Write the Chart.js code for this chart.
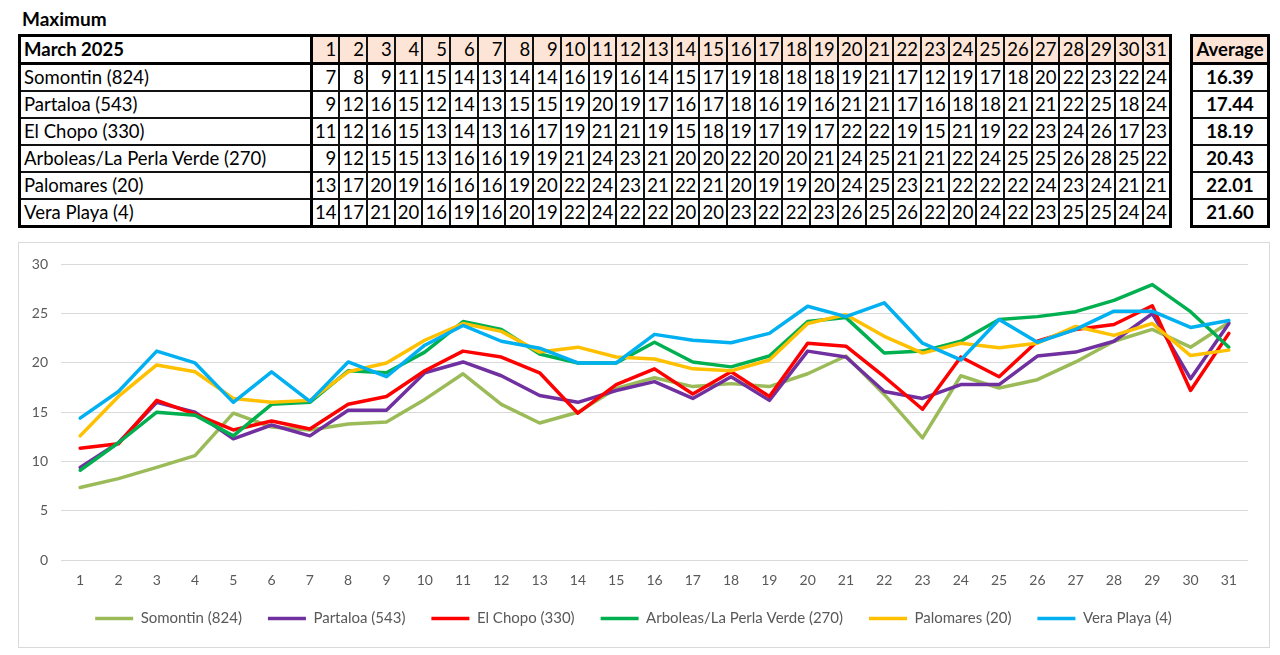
<!DOCTYPE html>
<html>
<head>
<meta charset="utf-8">
<script src="https://cdn.jsdelivr.net/npm/chart.js@4/dist/chart.umd.min.js"></script>
<style>
  body { margin: 0; width: 1280px; height: 655px; background: #fff; font-family: Lato, "Open Sans", sans-serif; position: relative; overflow: hidden; }
  #title { position: absolute; left: 22px; top: 7px; font-weight: bold; font-size: 19px; color: #000; }
  table { border-collapse: collapse; table-layout: fixed; position: absolute; font-size: 18.5px; color: #000; }
  td { border: 2px solid #111; padding: 0 2px; height: 25px; text-align: right; white-space: nowrap; overflow: hidden; line-height: 25px; }
  td.lbl { text-align: left; padding-left: 3px; border-right: 3px solid #000; }
  tr.head td { background: #fce4d6; border-bottom: 3px solid #000; }
  tr.head td.lbl { background: #fff; font-weight: bold; }
  #days { left: 18px; top: 34px; width: 1154px; border: 3px solid #000; }
  #avg { left: 1190px; top: 34px; width: 80px; border: 3px solid #000; }
  #avg td { text-align: center; font-weight: bold; padding: 0; }
  #box { position: absolute; left: 18px; top: 242px; width: 1250px; height: 404px; border: 1px solid #d9d9d9; }
</style>
</head>
<body>
<div id="title">Maximum</div>
<table id="days"></table>
<table id="avg"></table>
<div id="box"><canvas id="chart"></canvas></div>
<script>
const monthLabel = 'March 2025';
const days = ['1','2','3','4','5','6','7','8','9','10','11','12','13','14','15','16','17','18','19','20','21','22','23','24','25','26','27','28','29','30','31'];
const stations = ['Somontin (824)', 'Partaloa (543)', 'El Chopo (330)', 'Arboleas/La Perla Verde (270)', 'Palomares (20)', 'Vera Playa (4)'];
const colors = ['#9bbb59', '#7030a0', '#ff0000', '#00b050', '#ffc000', '#00b0f0'];

// table values (rounded, as printed)
const tableSomontin  = [7,8,9,11,15,14,13,14,14,16,19,16,14,15,17,19,18,18,18,19,21,17,12,19,17,18,20,22,23,22,24];
const tablePartaloa  = [9,12,16,15,12,14,13,15,15,19,20,19,17,16,17,18,16,19,16,21,21,17,16,18,18,21,21,22,25,18,24];
const tableElChopo   = [11,12,16,15,13,14,13,16,17,19,21,21,19,15,18,19,17,19,17,22,22,19,15,21,19,22,23,24,26,17,23];
const tableArboleas  = [9,12,15,15,13,16,16,19,19,21,24,23,21,20,20,22,20,20,21,24,25,21,21,22,24,25,25,26,28,25,22];
const tablePalomares = [13,17,20,19,16,16,16,19,20,22,24,23,21,22,21,20,19,19,20,24,25,23,21,22,22,22,24,23,24,21,21];
const tableVera      = [14,17,21,20,16,19,16,20,19,22,24,22,22,20,20,23,22,22,23,26,25,26,22,20,24,22,23,25,25,24,24];
const averages = ['16.39', '17.44', '18.19', '20.43', '22.01', '21.60'];

// chart values
const somontin  = [7.35,8.26,9.4,10.6,14.9,13.5,13.2,13.8,14.0,16.3,18.9,15.8,13.9,15.0,17.4,18.5,17.6,17.9,17.6,18.9,20.7,16.8,12.4,18.7,17.45,18.3,20.1,22.2,23.4,21.6,24.1];
const partaloa  = [9.4,11.9,16.0,15.0,12.3,13.7,12.6,15.2,15.2,19.0,20.1,18.7,16.7,16.0,17.2,18.1,16.4,18.6,16.2,21.2,20.6,17.1,16.4,17.8,17.8,20.7,21.1,22.2,25.0,18.4,24.0];
const elChopo   = [11.35,11.8,16.2,14.8,13.2,14.1,13.3,15.8,16.6,19.2,21.2,20.6,19.0,14.9,17.8,19.4,16.85,19.1,16.6,22.0,21.7,18.6,15.3,20.6,18.6,22.2,23.4,23.9,25.8,17.2,23.0];
const arboleas  = [9.1,11.9,15.0,14.7,12.6,15.8,16.0,19.2,19.0,21.1,24.2,23.4,20.9,20.0,20.0,22.1,20.1,19.6,20.7,24.2,24.6,21.0,21.2,22.2,24.4,24.7,25.2,26.35,27.95,25.2,21.6];
const palomares = [12.6,16.6,19.8,19.1,16.4,16.0,16.2,19.1,20.0,22.3,24.0,23.2,21.1,21.6,20.6,20.4,19.4,19.2,20.3,24.0,24.9,22.7,21.0,22.0,21.55,22.0,23.7,22.8,24.0,20.75,21.3];
const veraPlaya = [14.4,17.1,21.2,20.0,16.0,19.1,16.1,20.1,18.6,21.8,23.8,22.2,21.5,20.0,20.0,22.9,22.3,22.05,23.0,25.75,24.7,26.1,22.0,20.3,24.4,22.1,23.4,25.25,25.25,23.6,24.3];

const tableRows = [tableSomontin, tablePartaloa, tableElChopo, tableArboleas, tablePalomares, tableVera];
const seriesList = [somontin, partaloa, elChopo, arboleas, palomares, veraPlaya];

function buildTables() {
    const t = document.getElementById('days');
    let html = '<colgroup><col style="width:292px">' + days.map(() => '<col>').join('') + '</colgroup>';
    html += '<tr class="head"><td class="lbl">' + monthLabel + '</td>' + days.map(d => '<td>' + d + '</td>').join('') + '</tr>';
    stations.forEach((s, i) => {
        html += '<tr><td class="lbl">' + s + '</td>' + tableRows[i].map(v => '<td>' + v + '</td>').join('') + '</tr>';
    });
    t.innerHTML = html;

    const a = document.getElementById('avg');
    let h2 = '<tr class="head"><td>Average</td></tr>';
    averages.forEach(v => { h2 += '<tr><td>' + v + '</td></tr>'; });
    a.innerHTML = h2;
}

function maxChart(ctx) {
    const chart = new Chart(ctx, {
        type: 'line',
        data: {
            labels: days,
            datasets: stations.map((s, i) => ({
                label: s,
                data: seriesList[i],
                borderColor: colors[i],
                backgroundColor: colors[i],
                borderWidth: 3.5,
                borderCapStyle: 'round',
                borderJoinStyle: 'round',
                pointRadius: 0,
                tension: 0,
                order: stations.length - i
            }))
        },
        options: {
            responsive: true,
            maintainAspectRatio: false,
            animation: false,
            layout: { padding: { left: 0, right: 21, top: 17, bottom: 11 } },
            plugins: {
                tooltip: { enabled: false },
                legend: {
                    position: 'bottom',
                    reverse: true,
                    labels: {
                        usePointStyle: true,
                        pointStyle: 'line',
                        pointStyleWidth: 38,
                        padding: 26,
                        color: '#595959',
                        font: { family: 'Lato', size: 15 }
                    }
                }
            },
            scales: {
                x: {
                    offset: true,
                    grid: { display: false, drawTicks: false },
                    border: { display: false },
                    ticks: { color: '#595959', font: { family: 'Lato', size: 14 }, padding: 12, maxRotation: 0, autoSkip: false },
                    afterFit(scale) { scale.height = 25; }
                },
                y: {
                    min: 0,
                    max: 30,
                    ticks: { stepSize: 5, color: '#595959', font: { family: 'Lato', size: 14 }, padding: 13 },
                    grid: { color: '#d9d9d9', lineWidth: 1, drawTicks: false },
                    border: { display: false },
                    afterFit(scale) { scale.width = 42; }
                }
            }
        }
    });
    return chart;
}

function render() {
    buildTables();
    const ctx = document.getElementById('chart').getContext('2d');
    maxChart(ctx);
}
render();
</script>
</body>
</html>
